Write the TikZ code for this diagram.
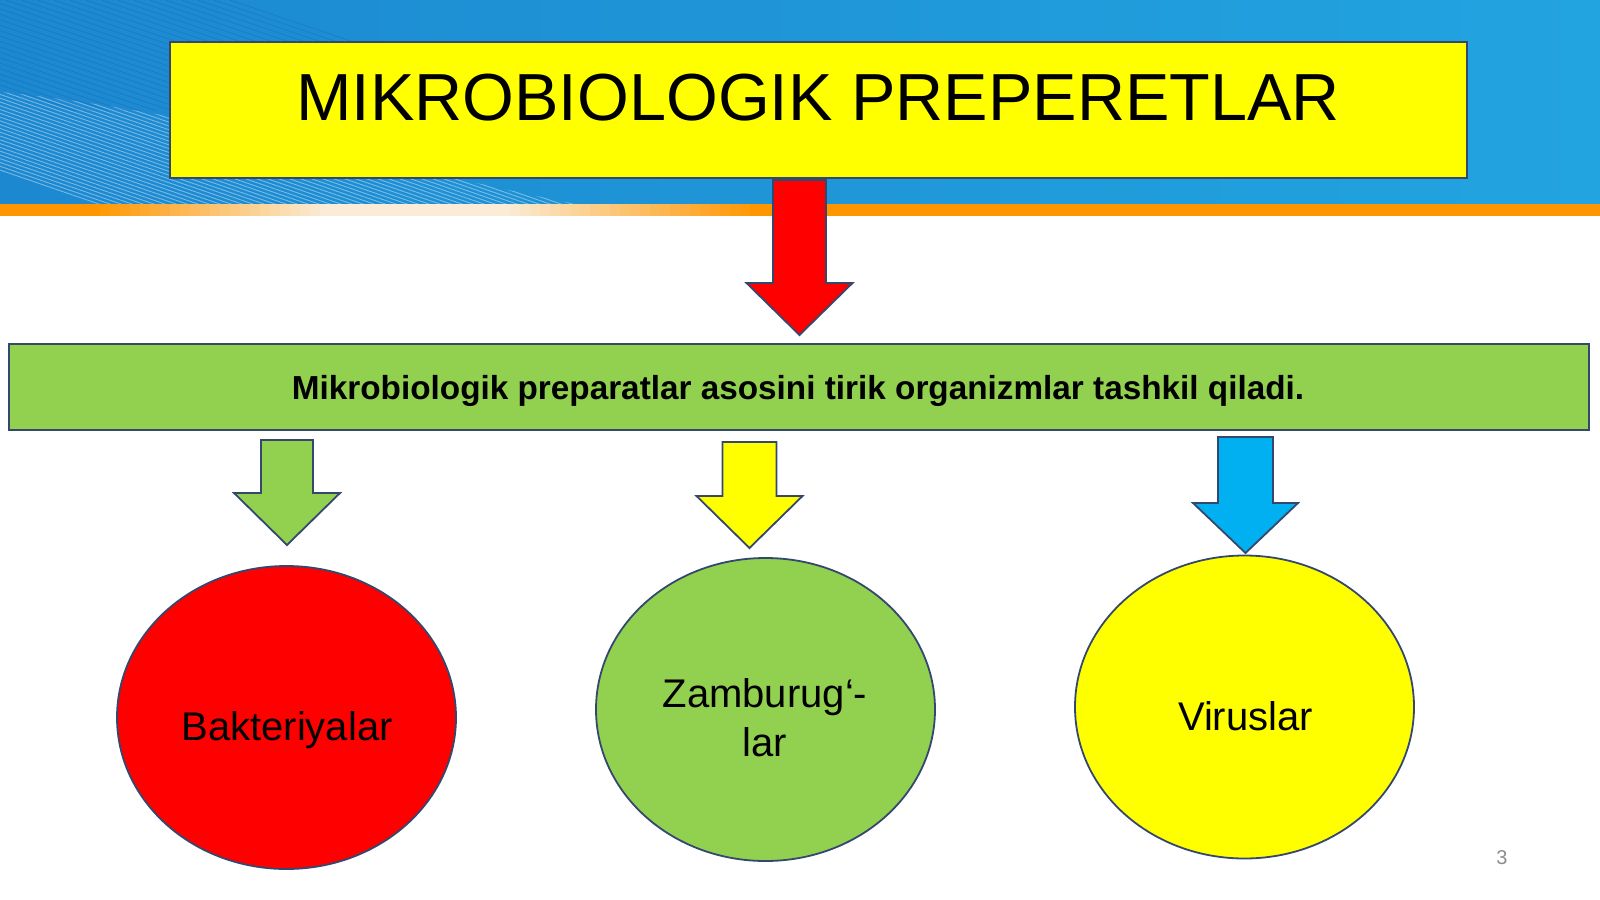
\documentclass[tikz,border=0pt]{standalone}
\usepackage{fontspec}
\setmainfont{Liberation Sans}
\usetikzlibrary{shapes.geometric}
\definecolor{edge}{RGB}{52,72,110}
\definecolor{bgblueA}{RGB}{28,136,208}
\definecolor{bgblueB}{RGB}{34,164,224}
\definecolor{orng}{RGB}{255,150,0}
\definecolor{cream}{RGB}{250,236,214}
\definecolor{grn}{RGB}{146,208,80}
\definecolor{ylw}{RGB}{255,255,0}
\definecolor{rd}{RGB}{255,0,0}
\definecolor{cyanarrow}{RGB}{0,176,240}
\definecolor{pagegrey}{RGB}{140,140,140}
\newcommand\fatdown[7]{%
  \draw[arrowline,fill=#1] (#2-#5,#3) -- (#2+#5,#3) -- (#2+#5,#7) -- (#2+#6,#7)
    -- (#2,#4) -- (#2-#6,#7) -- (#2-#5,#7) -- cycle;}
\begin{document}
\begin{tikzpicture}[x=1pt,y=-1pt,
  arrowline/.style={draw=edge,line width=1.8pt,line join=miter},
  boxstyle/.style={draw=edge,line width=1.8pt,inner sep=0pt,rectangle},
  ovalstyle/.style={ellipse,draw=edge,line width=1.8pt,inner sep=0pt,
     minimum width=339pt,minimum height=303pt},
  ovaltext/.style={anchor=base,font=\fontsize{40}{49}\selectfont,align=center},
]
\useasboundingbox (0,0) rectangle (1600,899);
\fill[white] (0,0) rectangle (1600,899);
% blue header band
\foreach \i in {0,...,79} {
  \pgfmathsetmacro{\pc}{\i*100/79}
  \fill[bgblueB!\pc!bgblueA] (\i*20,0) rectangle (\i*20+21,205);
}
\begin{scope}
  \clip (0,92) .. controls (200,112) and (380,165) .. (580,205) -- (0,205) -- cycle;
  \foreach \i in {0,...,60} {
    \draw[white,opacity=0.4,line width=0.9pt] (\i*11-320,60) -- ++(640,220);
  }
  \foreach \i in {0,...,40} {
    \draw[white,opacity=0.18,line width=0.7pt] (\i*16-200,40) -- ++(700,110);
  }
\end{scope}
\begin{scope}
  \clip (0,0) rectangle (420,110);
  \foreach \i in {0,...,30} {
    \draw[black!60!blue,opacity=0.1,line width=0.8pt] (\i*16-250,0) -- ++(500,170);
  }
\end{scope}
% orange strip
\fill[orng] (0,204) rectangle (1600,216);
\foreach \i in {0,...,23} {
  \pgfmathsetmacro{\pc}{\i*100/23}
  \fill[cream!\pc!orng] (90+\i*10,204) rectangle (90+\i*10+11,216);
}
\fill[cream] (329,204) rectangle (500,216);
\foreach \i in {0,...,25} {
  \pgfmathsetmacro{\pc}{100-\i*100/25}
  \fill[cream!\pc!orng] (500+\i*10,204) rectangle (500+\i*10+11,216);
}

% title
\node[boxstyle,fill=ylw,minimum width=1297pt,minimum height=136pt] (title) at (818.5,110) {};
\node[anchor=base,font=\fontsize{66.6}{80}\selectfont] (titletext) at (818,120) {MIKROBIOLOGIK PREPERETLAR};

% red arrow
\fatdown{rd}{799.5}{180}{335}{26.5}{53}{283}

% green bar
\node[boxstyle,fill=grn,minimum width=1580pt,minimum height=86pt] (bar) at (799,387) {};
\node[anchor=base,font=\bfseries\fontsize{33.3}{40}\selectfont] (bartext) at (798,399)
  {Mikrobiologik preparatlar asosini tirik organizmlar tashkil qiladi.};

% small arrows
\fatdown{grn}{287}{440}{545}{26}{53}{493}
\fatdown{ylw}{749.5}{442}{548}{27}{53}{496}
\fatdown{cyanarrow}{1245.5}{437}{553}{27.5}{52.5}{503}

% ellipses
\node[ovalstyle,fill=rd] (bakt) at (286.5,717.5) {};
\node[ovaltext] (bakttext) at (287,740) {Bakteriyalar};
\node[ovalstyle,fill=grn] (zamb) at (765.5,709.5) {};
\node[ovaltext] (zambtext) at (765,756) {Zamburug‘-\\lar};
\node[ovalstyle,fill=ylw] (vir) at (1244.5,707) {};
\node[ovaltext] (virtext) at (1245.5,730) {Viruslar};

% page number
\node[font=\fontsize{20}{24}\selectfont,text=pagegrey] (pagenum) at (1502,858) {3};
\end{tikzpicture}
\end{document}
